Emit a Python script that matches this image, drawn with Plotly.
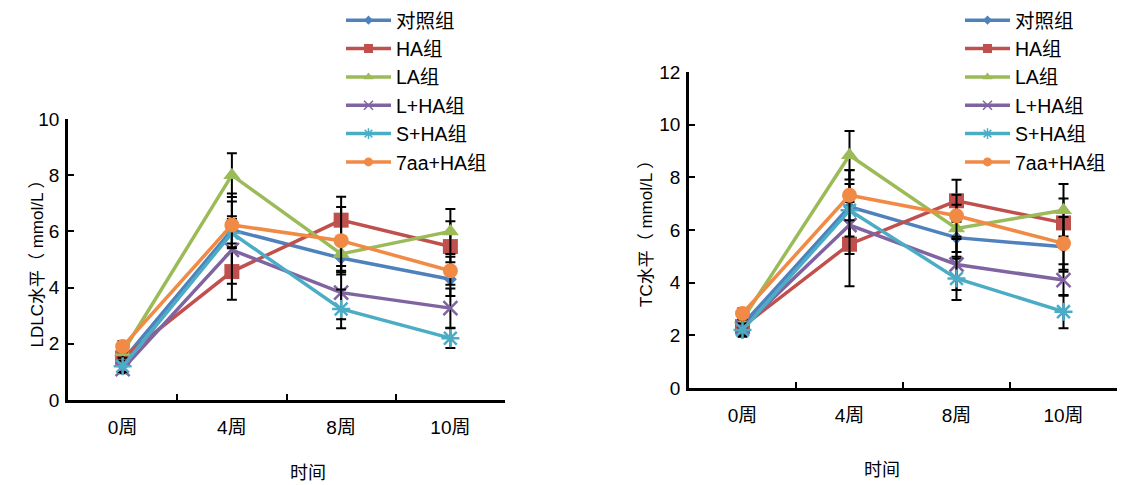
import plotly.graph_objects as go

weeks = ["0周", "4周", "8周", "10周"]
groups = ["对照组", "HA组", "LA组", "L+HA组", "S+HA组", "7aa+HA组"]

# LDLC (mmol/L)
ldlc_ctrl = [1.4, 6.05, 5.05, 4.3]
ldlc_ha = [1.5, 4.57, 6.4, 5.46]
ldlc_la = [1.7, 8.0, 5.2, 6.0]
ldlc_lha = [1.1, 5.34, 3.82, 3.27]
ldlc_sha = [1.2, 5.94, 3.24, 2.2]
ldlc_7aa = [1.9, 6.23, 5.67, 4.6]

ldlc_ctrl_err = [0.2, 1.3, 0.5, 0.6]
ldlc_ha_err = [0.25, 1.0, 0.83, 0.9]
ldlc_la_err = [0.2, 0.78, 0.6, 0.8]
ldlc_lha_err = [0.15, 1.2, 0.95, 0.7]
ldlc_sha_err = [0.2, 0.5, 0.69, 0.35]
ldlc_7aa_err = [0.2, 0.83, 1.2, 0.5]

# TC (mmol/L)
tc_ctrl = [2.4, 6.88, 5.71, 5.36]
tc_ha = [2.33, 5.46, 7.11, 6.27]
tc_la = [2.6, 8.84, 6.06, 6.75]
tc_lha = [2.3, 6.19, 4.69, 4.1]
tc_sha = [2.2, 6.75, 4.16, 2.9]
tc_7aa = [2.83, 7.32, 6.54, 5.49]

tc_ctrl_err = [0.3, 1.4, 0.8, 0.95]
tc_ha_err = [0.25, 1.6, 0.8, 0.93]
tc_la_err = [0.3, 0.92, 0.9, 1.0]
tc_lha_err = [0.3, 1.1, 0.97, 0.6]
tc_sha_err = [0.25, 1.0, 0.82, 0.63]
tc_7aa_err = [0.2, 0.95, 0.8, 1.0]

ldlc_ticks = [0, 2, 4, 6, 8, 10]
tc_ticks = [0, 2, 4, 6, 8, 10, 12]

colors = ["#4f81bd", "#c0504d", "#9bbb59", "#8064a2", "#4bacc6", "#f08a45"]
symbols = ["diamond", "square", "triangle-up", "x-thin-open", "asterisk-open", "circle"]
sizes = [10, 15, 15, 14, 15, 15]
legend_sizes = [7, 9, 9, 9, 9, 9]

FONT = "Liberation Sans, Arial, Noto Sans CJK SC, sans-serif"

fig = go.Figure()

ldlc_series = [ldlc_ctrl, ldlc_ha, ldlc_la, ldlc_lha, ldlc_sha, ldlc_7aa]
ldlc_errs = [ldlc_ctrl_err, ldlc_ha_err, ldlc_la_err, ldlc_lha_err, ldlc_sha_err, ldlc_7aa_err]
tc_series = [tc_ctrl, tc_ha, tc_la, tc_lha, tc_sha, tc_7aa]
tc_errs = [tc_ctrl_err, tc_ha_err, tc_la_err, tc_lha_err, tc_sha_err, tc_7aa_err]


def add_series(vals, errs, xa, ya, leg):
    for i, name in enumerate(groups):
        open_sym = symbols[i].endswith("open")
        fig.add_trace(go.Scatter(
            x=weeks, y=vals[i], name=name, mode="lines+markers",
            xaxis=xa, yaxis=ya, showlegend=False, legendgroup=leg + str(i),
            line=dict(color=colors[i], width=3.5),
            marker=dict(symbol=symbols[i], size=sizes[i], color=colors[i],
                        line=dict(color=colors[i], width=2.5 if open_sym else 0)),
            error_y=dict(type="data", array=errs[i], visible=True,
                         color="black", thickness=2, width=5),
        ))
    # legend entries with smaller symbols, as in the original legend
    for i, name in enumerate(groups):
        open_sym = symbols[i].endswith("open")
        fig.add_trace(go.Scatter(
            x=[None], y=[None], name=name, mode="lines+markers",
            xaxis=xa, yaxis=ya, legend=leg, legendgroup=leg + str(i),
            line=dict(color=colors[i], width=3.5),
            marker=dict(symbol=symbols[i], size=legend_sizes[i], color=colors[i],
                        line=dict(color=colors[i], width=1.5 if open_sym else 0)),
        ))


add_series(ldlc_series, ldlc_errs, "x", "y", "legend")
add_series(tc_series, tc_errs, "x2", "y2", "legend2")

W, H = 1137, 485
TICK = 19
axis_common = dict(
    showline=True, linecolor="black", linewidth=2.5, mirror=False,
    ticks="inside", ticklen=6, tickwidth=2, tickcolor="black",
    showgrid=False, zeroline=False,
    tickfont=dict(family=FONT, size=TICK, color="black"),
)

leg_common = dict(xanchor="left", yanchor="top", bgcolor="rgba(0,0,0,0)",
                  font=dict(family=FONT, size=19.5, color="black"),
                  itemwidth=45, tracegroupgap=0)

fig.update_layout(
    width=W, height=H,
    margin=dict(l=0, r=0, t=0, b=0, autoexpand=False),
    paper_bgcolor="white", plot_bgcolor="white",
    font=dict(family=FONT, size=17, color="black"),
    xaxis=dict(domain=[68 / W, 505 / W], anchor="y", type="category",
               range=[-0.5, 3.5], tickson="boundaries", ticklabelstandoff=8, **axis_common),
    yaxis=dict(domain=[(H - 400) / H, (H - 119) / H], anchor="x",
               range=[0, 10], tickvals=ldlc_ticks, ticklabelstandoff=2, **axis_common),
    xaxis2=dict(domain=[689 / W, 1117 / W], anchor="y2", type="category",
                range=[-0.5, 3.5], tickson="boundaries", ticklabelstandoff=8, **axis_common),
    yaxis2=dict(domain=[(H - 388) / H, (H - 72) / H], anchor="x2",
                range=[0, 12], tickvals=tc_ticks, ticklabelstandoff=2, **axis_common),
    legend=dict(x=341 / W, y=1 - 1 / H, **leg_common),
    legend2=dict(x=960 / W, y=1 - 1 / H, **leg_common),
    annotations=[
        dict(text="LDLC水平（ mmol/L ）", x=25 / W, y=(H - 260) / H, xref="paper", yref="paper",
             textangle=-90, showarrow=False, font=dict(family=FONT, size=17)),
        dict(text="TC水平（ mmol/L ）", x=646 / W, y=(H - 230) / H, xref="paper", yref="paper",
             textangle=-90, showarrow=False, font=dict(family=FONT, size=17)),
        dict(text="时间", x=288 / W, y=(H - 473) / H, xref="paper", yref="paper",
             yanchor="middle", showarrow=False, font=dict(family=FONT, size=18)),
        dict(text="时间", x=902 / W, y=(H - 470) / H, xref="paper", yref="paper",
             yanchor="middle", showarrow=False, font=dict(family=FONT, size=18)),
    ],
)

fig.write_html("out.html", config={"displayModeBar": False},
               post_script="document.body.style.margin='0';document.body.style.overflow='hidden';")
